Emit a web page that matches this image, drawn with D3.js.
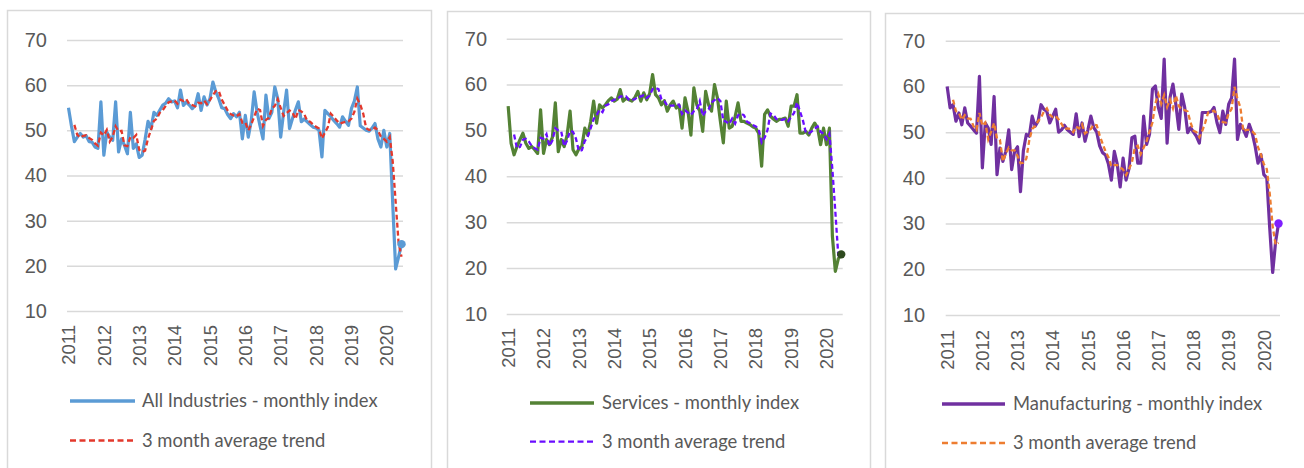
<!DOCTYPE html>
<html>
<head>
<meta charset="utf-8">
<script src="https://cdn.jsdelivr.net/npm/d3@7"></script>
<style>
  body { margin: 0; background: #ffffff; }
  svg { display: block; font-family: Lato, "Open Sans", sans-serif; }
  .grid line { stroke: #d9d9d9; stroke-width: 1.5; }
  .ytick text, .xtick text { fill: #595959; }
</style>
</head>
<body>
<svg id="chart" width="1304" height="468"></svg>
<script>
const years = ["2011", "2012", "2013", "2014", "2015", "2016", "2017", "2018", "2019", "2020"];
const yTicks = [10, 20, 30, 40, 50, 60, 70];

// Jan 2011 .. Jun 2020, one value per month
const allMonthly = [55, 51, 47.5, 48.5, 49.3, 48.5, 48.8, 47.5, 47.4, 46.3, 46, 56.3,
  44.5, 49.6, 48.5, 47.8, 56.3, 45.2, 48.1, 46.7, 44.8, 54, 46, 47,
  44, 44.5, 48, 52, 50.4, 54, 53.3, 54.5, 55.6, 56, 57, 56.3,
  56.5, 55, 58.9, 55.5, 56.3, 55.6, 54.8, 55.5, 58.1, 54.4, 57.4, 55.6,
  57, 60.7, 58.5, 57, 55, 54.8, 53.5, 52.6, 53.7, 53, 54, 48.1,
  53.3, 48.5, 52, 58.5, 54, 51, 48.1, 57.8, 52.6, 54, 59.6, 57,
  48.5, 54, 58.9, 50.4, 52.6, 54.5, 56.3, 51.9, 52.5, 51.9, 51.3, 50.7,
  50.5, 50, 44.1, 54.4, 53.7, 53, 52.2, 51.5, 50.7, 53, 52, 51.1,
  54.8, 56.5, 59.6, 51, 50.5, 50, 49.8, 50.5, 51.5, 48.1, 46.3, 50,
  46.3, 49.3, 34, 19.3, 22, 24.8];
const allTrend = [null, null, 51.2, 49, 48.4, 48.8, 48.9, 48.3, 47.9, 47.1, 46.6, 49.5,
  48.9, 50.1, 47.5, 48.6, 50.9, 49.8, 49.9, 46.7, 46.5, 48.5, 48.3, 49,
  45.7, 45.2, 45.5, 48.2, 50.1, 52.1, 52.6, 53.9, 54.5, 55.4, 56.2, 56.4,
  56.6, 55.9, 56.8, 56.5, 56.9, 55.8, 55.6, 55.3, 56.1, 56, 56.6, 55.8,
  56.7, 57.8, 58.7, 58.7, 56.8, 55.6, 54.4, 53.6, 53.3, 53.1, 53.6, 51.7,
  51.8, 50, 51.3, 53, 54.8, 54.5, 51, 52.3, 52.8, 54.8, 55.4, 56.9,
  55, 53.2, 53.8, 54.4, 54, 52.5, 54.5, 54.2, 53.6, 52.1, 51.9, 51.3,
  50.8, 50.4, 48.2, 49.5, 50.7, 53.7, 53, 52.2, 51.5, 51.7, 51.9, 52,
  52.6, 54.1, 57, 55.7, 53.7, 50.5, 50.1, 50.1, 50.6, 50, 48.6, 48.1,
  47.5, 48.5, 43.2, 34.2, 25.1, 22];

const servMonthly = [55.3, 47.2, 44.7, 46.5, 48, 49.4, 47.2, 46.1, 46.5, 45.8, 45, 54.5,
  45, 48, 46.9, 48.5, 56, 45.4, 48, 46.5, 49, 54.2, 45.8, 44.7,
  46, 46.5, 50.5, 49, 52, 56.4, 51.6, 55.6, 54.9, 55.6, 56.5, 57.1,
  56.4, 56.8, 58.9, 56.4, 57, 56.7, 56.4, 57.2, 58.5, 56.4, 58.2, 56.7,
  58, 62.2, 57.8, 57.1, 55.6, 56.5, 54.2, 55.6, 56.4, 54.9, 55.5, 50.5,
  57.1, 54.2, 49, 59.3, 55.6, 54.2, 49.8, 58.5, 55.6, 54.2, 60, 57.1,
  52, 47.3, 56.4, 50.5, 50.9, 53, 56, 52, 52, 51.6, 51.3, 50.8,
  50.5, 49.4, 42.2, 53.5, 54.5, 53.1, 52.5, 52, 52.4, 52.5, 52.7, 50.9,
  55.3, 55.3, 57.8, 49.4, 49.4, 49.8, 49, 50.5, 51.6, 50.5, 46.9, 50.5,
  46.9, 50.5, 27, 19.3, 22, 23];
const servTrend = [null, null, 49.1, 46.1, 46.4, 48, 48.2, 47.6, 46.6, 46.1, 45.8, 48.4,
  48.2, 49.2, 46.6, 47.8, 50.5, 50, 49.8, 46.6, 47.8, 49.9, 49.7, 48.2,
  45.5, 45.7, 47.7, 48.7, 50.5, 52.5, 53.3, 54.5, 54, 55.4, 55.7, 56.4,
  56.7, 56.8, 57.4, 57.4, 57.4, 56.7, 56.7, 56.8, 57.4, 57.4, 57.7, 57.1,
  57.6, 59, 59.3, 59, 56.8, 56.4, 55.4, 55.4, 55.4, 55.6, 55.6, 53.6,
  54.4, 53.9, 53.4, 54.2, 54.6, 56.4, 53.2, 54.2, 54.6, 56.1, 56.6, 57.1,
  56.4, 52.1, 51.9, 51.4, 52.6, 51.5, 53.3, 53.7, 53.3, 51.9, 51.6, 51.2,
  50.9, 50.2, 47.4, 48.4, 50.1, 53.7, 53.4, 52.5, 52.3, 52.3, 52.5, 52,
  53, 53.8, 56.1, 54.2, 52.2, 49.5, 49.4, 49.8, 50.4, 50.9, 49.7, 49.3,
  48.1, 49.3, 41.5, 32.3, 22.8, 22.5];

const mfgMonthly = [60, 55.3, 56, 52.4, 54.2, 51.6, 55.3, 52, 51.3, 50.5, 49.8, 62.2,
  42.2, 52, 50.9, 47.3, 57.8, 40.7, 46.5, 43.6, 45.8, 50.5, 41.8, 45.8,
  46.8, 37, 46, 49.5, 49.1, 53.5, 51.3, 52.4, 56, 55, 54.5, 52,
  53.5, 55, 50, 50.5, 51.5, 50.5, 50, 49.5, 54, 49, 52, 48,
  50.5, 53.5, 51, 50, 47, 45.5, 45, 43, 39.5, 45.8, 43, 38,
  44.3, 39.5, 42, 48.8, 49.1, 43.2, 43.2, 53.5, 47.3, 49.5, 59.4, 60.1,
  55.4, 53, 66, 47.6, 57.6, 60.5, 56, 50.6, 58.3, 55.4, 49.9, 51,
  50, 49.1, 47.6, 54.3, 54.3, 54.3, 54.5, 55.4, 52.1, 49.9, 54.6, 51.7,
  56.1, 57.5, 66, 48.4, 51.7, 50.6, 49.1, 51.7, 49.9, 47, 43.2, 45.1,
  40.7, 40, 29, 19.3, 26, 30];
const mfgTrend = [null, null, 57.1, 54.6, 54.2, 52.7, 53.7, 53, 52.9, 51.3, 50.5, 54.2,
  51.4, 52.1, 48.4, 50.1, 52, 48.6, 48.3, 43.6, 45.3, 46.6, 46, 46,
  44.8, 43.2, 43.3, 44.2, 48.2, 50.7, 51.3, 52.4, 53.2, 54.5, 55.2, 53.8,
  53.3, 53.5, 52.8, 51.8, 50.7, 50.8, 50.7, 50, 51.2, 50.8, 51.7, 49.7,
  50.2, 50.7, 51.7, 51.5, 49.3, 47.5, 45.8, 44.5, 42.5, 42.8, 42.8, 42.3,
  41.8, 40.6, 41.9, 43.4, 46.6, 47, 45.2, 46.6, 48, 50.1, 52.1, 56.3,
  58.3, 56.2, 58.1, 55.5, 57.1, 55.2, 58, 55.7, 55, 54.8, 54.5, 52.1,
  50.3, 50, 48.9, 50.3, 52.1, 54.3, 54.4, 54.7, 54, 52.5, 52.2, 52.1,
  54.1, 55.1, 59.9, 57.3, 55.4, 50.2, 50.5, 50.5, 50.2, 49.5, 46.7, 45.1,
  43, 41.9, 36.6, 29.4, 25.4, 25.8];

const months = years.flatMap(y => d3.range(1, 13).map(m => y + "-" + String(m).padStart(2, "0")))
  .slice(0, allMonthly.length);

const panels = [
  { box: [7, 10, 424, 480], plotX: [67, 403], plotY: [311, 40], labelRight: 47, xLabelTop: 325,
    monthly: allMonthly, trend: allTrend, lineColor: "#5b9bd5", trendColor: "#e3382c", dotColor: "#5b9bd5",
    name: "All Industries - monthly index", legend: [70, 135, 142, 401, 440.5] },
  { box: [447, 11, 423, 480], plotX: [506.7, 842.7], plotY: [314, 38.7], labelRight: 487, xLabelTop: 328,
    monthly: servMonthly, trend: servTrend, lineColor: "#548235", trendColor: "#6a0dff", dotColor: "#2e4a1e",
    name: "Services - monthly index", legend: [530, 594, 602, 403, 441.7] },
  { box: [885, 13, 440, 480], plotX: [945.7, 1280], plotY: [315, 40.7], labelRight: 925, xLabelTop: 330,
    monthly: mfgMonthly, trend: mfgTrend, lineColor: "#7030a0", trendColor: "#ed7d31", dotColor: "#7f1fff",
    name: "Manufacturing - monthly index", legend: [942, 1005, 1013, 404, 443] }
];

const svg = d3.select("#chart");

function drawPanel(p) {
  const g = svg.append("g");

  g.append("rect")
    .attr("x", p.box[0] + 0.5).attr("y", p.box[1] + 0.5)
    .attr("width", p.box[2]).attr("height", p.box[3])
    .attr("fill", "none").attr("stroke", "#d9d9d9").attr("stroke-width", 1.5);

  const x = d3.scaleBand().domain(months).range(p.plotX);
  const cx = m => x(m) + x.bandwidth() / 2;
  const y = d3.scaleLinear().domain([10, 70]).range(p.plotY);

  // gridlines + y labels
  const yAxis = g.append("g")
    .attr("class", "grid ytick")
    .attr("transform", `translate(${p.plotX[0]},0)`)
    .call(d3.axisLeft(y).tickValues(yTicks).tickSize(-(p.plotX[1] - p.plotX[0])).tickPadding(p.plotX[0] - p.labelRight));
  yAxis.select(".domain").remove();
  yAxis.selectAll("text").style("font-size", "20px");

  // year labels, rotated
  const xAxis = g.append("g")
    .attr("class", "xtick")
    .attr("transform", `translate(0,${p.plotY[0]})`)
    .call(d3.axisBottom(x).tickValues(months.filter(m => m.endsWith("-01"))).tickFormat(m => m.slice(0, 4)).tickSize(0));
  xAxis.select(".domain").remove();
  xAxis.selectAll("text")
    .style("font-size", "18.5px")
    .attr("text-anchor", "end")
    .attr("transform", "rotate(-90)")
    .attr("x", -(p.xLabelTop - p.plotY[0]))
    .attr("y", 0)
    .attr("dy", "0.36em");

  const monthlyLine = d3.line()
    .x((d, i) => cx(months[i]))
    .y(d => y(d));
  const trendLine = d3.line()
    .defined(d => d != null)
    .x((d, i) => cx(months[i]))
    .y(d => y(d));

  g.append("path")
    .datum(p.monthly)
    .attr("fill", "none")
    .attr("stroke", p.lineColor)
    .attr("stroke-width", 3.2)
    .attr("stroke-linejoin", "round")
    .attr("d", monthlyLine);

  g.append("path")
    .datum(p.trend)
    .attr("fill", "none")
    .attr("stroke", p.trendColor)
    .attr("stroke-width", 2.3)
    .attr("stroke-dasharray", "5,3")
    .attr("d", trendLine);

  const last = p.monthly.length - 1;
  g.append("circle")
    .attr("cx", cx(months[last]))
    .attr("cy", y(p.monthly[last]))
    .attr("r", 4.2)
    .attr("fill", p.dotColor);

  // legend
  const [lx0, lx1, tx, ly1, ly2] = p.legend;
  g.append("line").attr("x1", lx0).attr("x2", lx1).attr("y1", ly1).attr("y2", ly1)
    .attr("stroke", p.lineColor).attr("stroke-width", 3.5);
  g.append("line").attr("x1", lx0).attr("x2", lx1).attr("y1", ly2).attr("y2", ly2)
    .attr("stroke", p.trendColor).attr("stroke-width", 2.3).attr("stroke-dasharray", "6,3.5");
  g.append("text").attr("x", tx).attr("y", ly1).attr("dy", "0.35em")
    .attr("fill", "#595959").style("font-size", "18.4px").text(p.name);
  g.append("text").attr("x", tx).attr("y", ly2).attr("dy", "0.35em")
    .attr("fill", "#595959").style("font-size", "18.4px").text("3 month average trend");
}

panels.forEach(drawPanel);
</script>
</body>
</html>
